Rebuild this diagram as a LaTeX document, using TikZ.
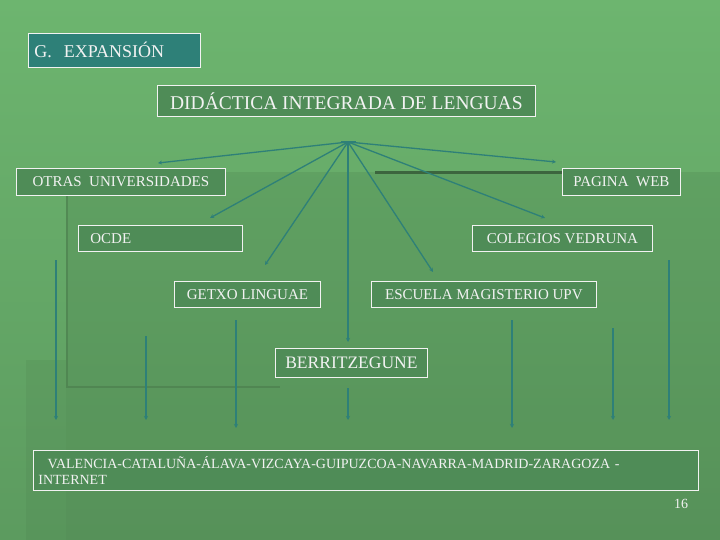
\documentclass[tikz,border=0pt]{standalone}
\usepackage{fontspec}
\setmainfont{Liberation Serif}
\usetikzlibrary{arrows.meta}
\definecolor{bgtop}{HTML}{6DB56F}
\definecolor{bgbot}{HTML}{5C9B5F}
\definecolor{boxfill}{HTML}{4F8C57}
\definecolor{teal}{HTML}{2E8078}
\definecolor{txt}{HTML}{F2F2F2}
\begin{document}
\begin{tikzpicture}[x=1pt,y=-1pt,
  box/.style={draw=txt,line width=0.8pt,fill=boxfill,text=txt,font=\fontsize{15}{17}\selectfont,inner sep=0pt,anchor=north west},
  conn/.style={teal,line width=1.3pt,-{Stealth[length=4pt,width=4pt]}},
  vline/.style={teal,line width=1.3pt,-{Stealth[length=4pt,width=4pt]}}]
\useasboundingbox (0,0) rectangle (720,540);
\shade[top color=bgtop,bottom color=bgbot] (0,0) rectangle (720,540);
\fill[black!40!bgbot,opacity=0.15] (66,172) rectangle (720,540);
\fill[black!30!bgbot,opacity=0.12] (26,360) rectangle (66,540);
\draw[black!35!bgbot,line width=3pt] (375,173) -- (642,173);
\draw[black!20!bgbot,line width=2pt,opacity=0.6] (67,172) -- (67,387) -- (280,387);

\node[box,fill=teal,minimum width=168pt,minimum height=34pt,text width=160pt,align=left,inner xsep=6pt,font=\fontsize{18}{20}\selectfont] (exp) at (28,33) {G.\ \ EXPANSIÓN};
\node[box,minimum width=378pt,minimum height=31pt,font=\fontsize{19.5}{21}\selectfont] (did) at (157,85) {DIDÁCTICA INTEGRADA DE LENGUAS};
\node[box,minimum width=209pt,minimum height=27pt] (otras) at (16,168) {OTRAS\ \ UNIVERSIDADES};
\node[box,minimum width=118pt,minimum height=27pt] (web) at (562,168) {PAGINA\ \ WEB};
\node[box,minimum width=164pt,minimum height=26pt,text width=150pt,align=left,inner xsep=7pt] (ocde) at (78,225) {\ OCDE};
\node[box,minimum width=180pt,minimum height=26pt] (coleg) at (472,225) {COLEGIOS VEDRUNA};
\node[box,minimum width=146pt,minimum height=26pt] (getxo) at (174,281) {GETXO LINGUAE};
\node[box,minimum width=225pt,minimum height=26pt] (escuela) at (371,281) {ESCUELA MAGISTERIO UPV};
\node[box,minimum width=152pt,minimum height=29pt,font=\fontsize{17.5}{19}\selectfont] (berri) at (275,348) {BERRITZEGUNE};
\node[box,minimum width=665pt,minimum height=40pt,text width=655pt,align=left,inner xsep=5pt,font=\fontsize{14}{16}\selectfont] (bottom) at (33,450) {\ \ VALENCIA-CATALUÑA-ÁLAVA-VIZCAYA-GUIPUZCOA-NAVARRA-MADRID-ZARAGOZA -\\INTERNET};
\node[text=txt,font=\fontsize{14}{16}\selectfont] (pg) at (681,504) {16};

\coordinate (hub) at (348,142);
\draw[teal,line width=2pt] (341,142) -- (356,142);
\coordinate (e1) at (158,163);
\coordinate (e2) at (210,218);
\coordinate (e3) at (265,265);
\coordinate (e4) at (348,342);
\coordinate (e5) at (433,272);
\coordinate (e6) at (545,218);
\coordinate (e7) at (556,162);
\foreach \e in {e1,e2,e3,e4,e5,e6,e7} \draw[conn] (hub) -- (\e);

\foreach \n/\x/\a/\b in {v1/56/260/420, v2/146/336/420, v3/236/320/428, v4/348/388/420, v5/512/320/428, v6/613/328/420, v7/669/260/420}{
  \coordinate (\n s) at (\x,\a);
  \coordinate (\n e) at (\x,\b);
  \draw[vline] (\n s) -- (\n e);
}
\end{tikzpicture}
\end{document}
